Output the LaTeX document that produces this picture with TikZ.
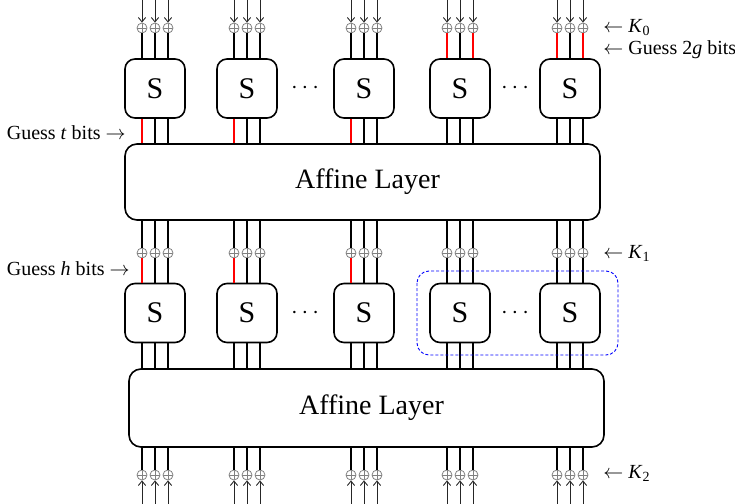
\documentclass[tikz,border=0pt]{standalone}
\usepackage{fontspec}
\setmainfont{Liberation Serif}
\usetikzlibrary{arrows.meta}
\begin{document}
\begin{tikzpicture}[x=0.5pt,y=-0.5pt,
    sbox/.style={draw, line width=0.8pt, rounded corners=5pt, minimum width=30pt, minimum height=29.5pt, inner sep=0pt, font=\fontsize{15}{15}\selectfont},
    affbox/.style={draw, line width=0.8pt, rounded corners=6pt, minimum width=237.5pt, inner sep=0pt, font=\fontsize{14}{14}\selectfont},
    xornode/.style={circle, draw=gray, line width=0.4pt, inner sep=0pt, minimum size=5pt, path picture={\draw[gray, line width=0.4pt] (path picture bounding box.north) -- (path picture bounding box.south) (path picture bounding box.west) -- (path picture bounding box.east);}},
    wire/.style={line width=0.95pt},
    keyin/.style={-{Straight Barb[length=2.2pt,width=3.6pt]}, line width=0.45pt, draw=black!85},
    lbl/.style={inner sep=0pt, font=\fontsize{10}{10}\selectfont}]
\useasboundingbox (0,0) rectangle (735,504);
% s-box layers
\foreach \i/\cx in {1/155, 2/247, 3/364, 4/460, 5/570} {
    \node [sbox] (SA\i) at (\cx,88.5) {S};
    \node [sbox] (SB\i) at (\cx,313) {S};
    \foreach \j/\dx in {1/-13, 2/0, 3/13} {
        \node [xornode] (XA\i\j) at (\cx+\dx,28) {};
        \node [xornode] (XB\i\j) at (\cx+\dx,253) {};
        \node [xornode] (XC\i\j) at (\cx+\dx,475) {};
        \coordinate (TA\i\j) at (\cx+\dx,0);
        \coordinate (TC\i\j) at (\cx+\dx,504);
    }
}
\node [affbox, minimum height=38pt] (AF1) at (362.5,182) {\hspace{5pt}Affine Layer};
\node [affbox, minimum height=39pt] (AF2) at (366.5,408) {\hspace{5pt}Affine Layer};
% dots
\foreach \y in {88.5, 313} {
    \node [font=\fontsize{12}{12}\selectfont] (DL) at (305,\y) {$\cdots$};
    \node [font=\fontsize{12}{12}\selectfont] (DR) at (515,\y) {$\cdots$};
}
% wires
\foreach \i in {1,...,5} {
    \foreach \j in {1,2,3} {
        \draw [keyin] (TA\i\j) -- (XA\i\j.north);
        \draw [keyin] (TC\i\j) -- (XC\i\j.south);
        \draw [wire] (AF1.south -| XB\i\j) -- (XB\i\j.north);
        \draw [wire] (SB\i.south -| XB\i\j) -- (AF2.north -| XB\i\j);
        \draw [wire] (AF2.south -| XC\i\j) -- (XC\i\j.north);
    }
}
\foreach \i in {1,2,3} {
    \draw [wire] (XA\i1.south) -- (XA\i1.south |- SA\i.north);
    \draw [wire, red] (SA\i.south -| XA\i1) -- (AF1.north -| XA\i1);
    \draw [wire, red] (XB\i1.south) -- (XB\i1.south |- SB\i.north);
    \foreach \j in {2,3} {
        \draw [wire] (XA\i\j.south) -- (XA\i\j.south |- SA\i.north);
        \draw [wire] (SA\i.south -| XA\i\j) -- (AF1.north -| XA\i\j);
        \draw [wire] (XB\i\j.south) -- (XB\i\j.south |- SB\i.north);
    }
}
\foreach \i in {4,5} {
    \draw [wire, red] (XA\i1.south) -- (XA\i1.south |- SA\i.north);
    \draw [wire] (XA\i2.south) -- (XA\i2.south |- SA\i.north);
    \draw [wire, red] (XA\i3.south) -- (XA\i3.south |- SA\i.north);
    \foreach \j in {1,2,3} {
        \draw [wire] (SA\i.south -| XA\i\j) -- (AF1.north -| XA\i\j);
        \draw [wire] (XB\i\j.south) -- (XB\i\j.south |- SB\i.north);
    }
}
% guessed part
\draw [blue, dash pattern=on 1.5pt off 1pt, line width=0.45pt, rounded corners=6pt] (417,271) rectangle (618,355);
% labels
\node [lbl, anchor=west] (K0) at (603,28) {$\leftarrow$ \textit{K}\textsubscript{0}};
\node [lbl, anchor=west] (G2) at (603,50) {$\leftarrow$ Guess 2\textit{g} bits};
\node [lbl, anchor=west] (K1) at (603,253) {$\leftarrow$ \textit{K}\textsubscript{1}};
\node [lbl, anchor=west] (K2) at (603,473) {$\leftarrow$ \textit{K}\textsubscript{2}};
\node [lbl, anchor=east] (GT) at (126,133) {Guess \textit{t} bits $\rightarrow$};
\node [lbl, anchor=east] (GH) at (130,269) {Guess \textit{h} bits $\rightarrow$};
\end{tikzpicture}
\end{document}
